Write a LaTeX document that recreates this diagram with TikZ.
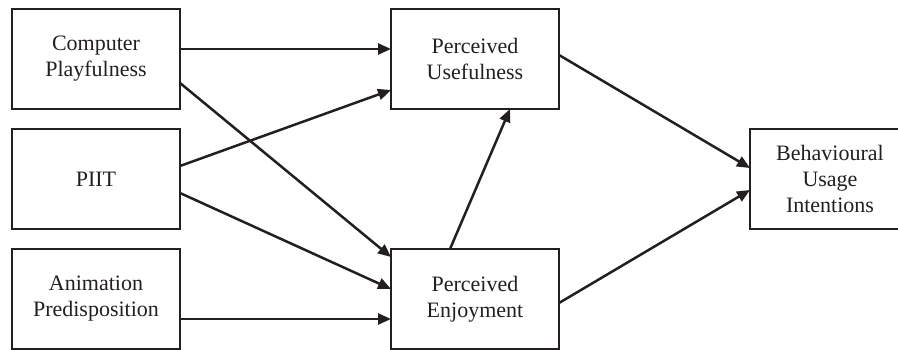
\documentclass[tikz,border=0pt]{standalone}
\usepackage{fontspec}
\setmainfont{Liberation Serif}
\usepackage{xcolor}
\usetikzlibrary{arrows.meta, positioning}
\definecolor{ink}{HTML}{231F20}

\begin{document}
\begin{tikzpicture}[x=1pt, y=-1pt, node distance=20pt, font=\fontsize{22}{26}\selectfont]
    \tikzset{construct/.style={rectangle, draw=ink, line width=2.5pt, outer sep=0pt, minimum width=168pt, minimum height=100pt, align=center, inner sep=4pt, text=ink},
             path/.style={draw=ink, line width=2.5pt, -{Triangle[length=13pt, width=11pt]}}}
    \useasboundingbox (0,0) rectangle (898,350);
    \node[construct] (cp) at (96,59) {Computer\\Playfulness};
    \node[construct, below=of cp] (piit) {PIIT};
    \node[construct, below=of piit] (ap) {Animation\\Predisposition};
    \node[construct, right=211pt of cp] (pu) {Perceived\\Usefulness};
    \node[construct, right=211pt of ap] (pe) {Perceived\\Enjoyment};
    \node[construct, minimum width=160pt, right=570pt of piit] (bui) {Behavioural\\Usage\\Intentions};

    \draw[path] ([yshift=10pt]cp.east) -- ([yshift=10pt]pu.west);
    \draw[path] ([yshift=-24pt]cp.east) -- ([yshift=-8pt]pe.north west);
    \draw[path] ([yshift=13pt]piit.east) -- ([yshift=-31pt]pu.west);
    \draw[path] ([yshift=-14pt]piit.east) -- ([yshift=10pt]pe.west);
    \draw[path] ([yshift=-20pt]ap.east) -- ([yshift=-20pt]pe.west);
    \draw[path] ([xshift=-25pt]pe.north) -- ([xshift=35pt]pu.south);
    \draw[path] ([yshift=4pt]pu.east) -- ([yshift=11pt]bui.west);
    \draw[path] ([yshift=-4pt]pe.east) -- ([yshift=-11pt]bui.west);
\end{tikzpicture}
\end{document}
